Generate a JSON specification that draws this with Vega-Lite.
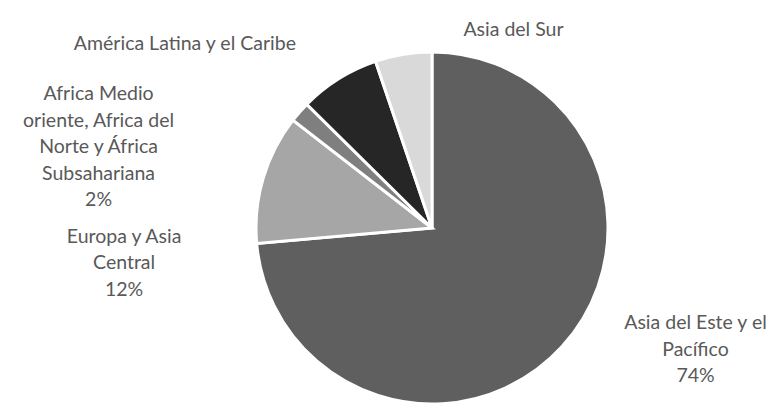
{
  "$schema": "https://vega.github.io/schema/vega-lite/v6.json",
  "width": 668,
  "height": 356,
  "autosize": "none",
  "padding": {"left": 98, "top": 50, "right": 0, "bottom": 0},
  "background": "white",
  "data": {
    "values": [
      {"orden": 1, "region": "Asia del Este y el Pacífico", "valor": 73.6, "etiqueta": "Asia del Este y el\nPacífico\n74%"},
      {"orden": 2, "region": "Europa y Asia Central", "valor": 11.9, "etiqueta": "Europa y Asia\nCentral\n12%"},
      {"orden": 3, "region": "Africa Medio oriente, Africa del Norte y África Subsahariana", "valor": 1.9, "etiqueta": "Africa Medio\noriente, Africa del\nNorte y África\nSubsahariana\n2%"},
      {"orden": 4, "region": "América Latina y el Caribe", "valor": 7.4, "etiqueta": "América Latina y el Caribe"},
      {"orden": 5, "region": "Asia del Sur", "valor": 5.2, "etiqueta": "Asia del Sur"}
    ]
  },
  "encoding": {
    "theta": {"field": "valor", "type": "quantitative", "stack": true},
    "order": {"field": "orden", "type": "quantitative"}
  },
  "layer": [
    {
      "mark": {"type": "arc", "outerRadius": 176, "stroke": "white", "strokeWidth": 3},
      "encoding": {
        "color": {
          "field": "region",
          "type": "nominal",
          "scale": {
            "domain": ["Asia del Este y el Pacífico", "Europa y Asia Central", "Africa Medio oriente, Africa del Norte y África Subsahariana", "América Latina y el Caribe", "Asia del Sur"],
            "range": ["#5f5f5f", "#a6a6a6", "#7f7f7f", "#262626", "#d9d9d9"]
          },
          "legend": null
        }
      }
    },
    {
      "mark": {"type": "text", "radius": 200, "dx": 116, "dy": -40, "font": "Lato", "fontSize": 19.5, "lineHeight": 26.5, "lineBreak": "\n", "color": "#595959", "align": "center", "baseline": "middle"},
      "encoding": {"text": {"condition": {"test": "datum.orden === 1", "field": "etiqueta"}, "value": ""}}
    },
    {
      "mark": {"type": "text", "radius": 200, "dx": -116, "dy": 65, "font": "Lato", "fontSize": 19.5, "lineHeight": 26.5, "lineBreak": "\n", "color": "#595959", "align": "center", "baseline": "middle"},
      "encoding": {"text": {"condition": {"test": "datum.orden === 2", "field": "etiqueta"}, "value": ""}}
    },
    {
      "mark": {"type": "text", "radius": 200, "dx": -183, "dy": -2, "font": "Lato", "fontSize": 19.5, "lineHeight": 26.5, "lineBreak": "\n", "color": "#595959", "align": "center", "baseline": "middle"},
      "encoding": {"text": {"condition": {"test": "datum.orden === 3", "field": "etiqueta"}, "value": ""}}
    },
    {
      "mark": {"type": "text", "radius": 200, "dx": -141, "dy": -14, "font": "Lato", "fontSize": 19.5, "lineHeight": 26.5, "lineBreak": "\n", "color": "#595959", "align": "center", "baseline": "middle"},
      "encoding": {"text": {"condition": {"test": "datum.orden === 4", "field": "etiqueta"}, "value": ""}}
    },
    {
      "mark": {"type": "text", "radius": 200, "dx": 114, "dy": -1, "font": "Lato", "fontSize": 19.5, "lineHeight": 26.5, "lineBreak": "\n", "color": "#595959", "align": "center", "baseline": "middle"},
      "encoding": {"text": {"condition": {"test": "datum.orden === 5", "field": "etiqueta"}, "value": ""}}
    }
  ]
}
